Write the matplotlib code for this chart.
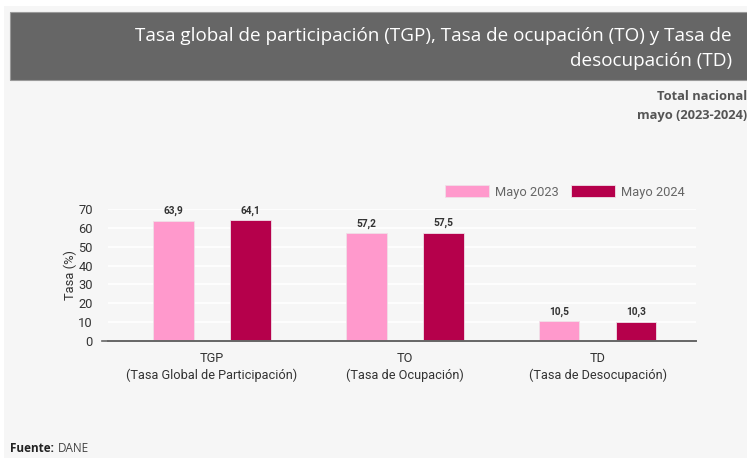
import matplotlib
matplotlib.use("Agg")
import matplotlib.pyplot as plt
import matplotlib.patches
import numpy as np

# Data
categories = ["TGP\n(Tasa Global de Participación)",
              "TO\n(Tasa de Ocupación)",
              "TD\n(Tasa de Desocupación)"]
series_names = ["Mayo 2023", "Mayo 2024"]
mayo_2023 = [63.9, 57.2, 10.5]
mayo_2024 = [64.1, 57.5, 10.3]
y_ticks = [0, 10, 20, 30, 40, 50, 60, 70]

# Colors
bg = "#f6f6f6"
header_gray = "#666666"
pink = "#ff99cc"
wine = "#b5004b"
text_dark = "#333333"
text_gray = "#666666"

plt.rcParams["font.family"] = ["Roboto", "DejaVu Sans"]

fig = plt.figure(figsize=(7.47, 4.58), dpi=100)
fig.patch.set_facecolor("white")

# light panel + header band
fig.patches.append(matplotlib.patches.Rectangle(
    (4 / 747, 0), 1, 1 - 6 / 458, transform=fig.transFigure,
    facecolor=bg, edgecolor="none", zorder=0))
fig.patches.append(matplotlib.patches.Rectangle(
    (10 / 747, 1 - 80 / 458), 1, 68 / 458, transform=fig.transFigure,
    facecolor=header_gray, edgecolor="#9a9a9a", linewidth=0.8, zorder=1))

fig.text(732 / 747, 1 - 36 / 458,
         "Tasa global de participación (TGP), Tasa de ocupación (TO) y Tasa de",
         ha="right", va="center", color="white", fontsize=13.6, family="Open Sans")
fig.text(732 / 747, 1 - 61 / 458, "desocupación (TD)",
         ha="right", va="center", color="white", fontsize=13.6, family="Open Sans")
fig.text(747 / 747, 1 - 97 / 458, "Total nacional", ha="right", va="center",
         color="#555555", fontsize=9.3, fontweight="bold", family="Open Sans")
fig.text(747 / 747, 1 - 116 / 458, "mayo (2023-2024)", ha="right", va="center",
         color="#555555", fontsize=9.3, fontweight="bold", family="Open Sans")
fig.text(10 / 747, 1 - 449 / 458, "Fuente:", ha="left", va="center",
         color="#222222", fontsize=8.5, fontweight="bold", family="Open Sans")
fig.text(58 / 747, 1 - 449 / 458, "DANE", ha="left", va="center",
         color="#444444", fontsize=8.5, family="Open Sans")

ax = fig.add_axes([108 / 747, 1 - 341 / 458, 588 / 747, 132 / 458])
ax.set_zorder(3)
ax.set_facecolor(bg)

x = np.arange(len(categories))
offset = 0.2
width = 0.21
b1 = ax.bar(x - offset, mayo_2023, width, color=pink, edgecolor="#f0e0e8",
            linewidth=0.6, zorder=3, label=series_names[0])
b2 = ax.bar(x + offset, mayo_2024, width, color=wine, edgecolor="#f0e0e8",
            linewidth=0.6, zorder=3, label=series_names[1])

for rects in (b1, b2):
    for r in rects:
        h = r.get_height()
        ax.annotate(f"{h:.1f}".replace(".", ","),
                    xy=(r.get_x() + r.get_width() / 2, h),
                    xytext=(0, 3), textcoords="offset points",
                    ha="center", va="bottom", fontsize=7.3, fontweight="bold",
                    color=text_dark)

ax.set_xlim(-0.54, 2.51)
ax.set_ylim(0, 70)
ax.set_yticks(y_ticks)
ax.set_yticklabels([str(v) for v in y_ticks], color=text_dark, fontsize=9.3)
ax.set_xticks(x)
ax.set_xticklabels(categories, color=text_dark, fontsize=9.2, linespacing=1.35)
ax.tick_params(axis="x", length=0, pad=8)
ax.tick_params(axis="y", length=0, pad=11)
ax.grid(axis="y", color="white", linewidth=1.2, zorder=0)
ax.set_axisbelow(True)

for s in ["top", "right", "left"]:
    ax.spines[s].set_visible(False)
ax.spines["bottom"].set_color("#666666")
ax.spines["bottom"].set_linewidth(1.4)
ax.spines["bottom"].set_zorder(4)
# small tick at zero on the left
ax.plot([-0.57, -0.54], [0, 0], color="#666666", linewidth=1.2,
        clip_on=False, zorder=4)

ax.set_ylabel("Tasa (%)", color=text_dark, fontsize=9.3, labelpad=1)

ax.legend(loc="lower right", bbox_to_anchor=(0.99, 1.04), ncol=2, frameon=False,
          fontsize=9.3, labelcolor=text_gray, handlelength=3.4, handleheight=1.1,
          columnspacing=0.9, handletextpad=0.5, borderaxespad=0)

fig.savefig("out.png", dpi=100, facecolor=fig.get_facecolor())
